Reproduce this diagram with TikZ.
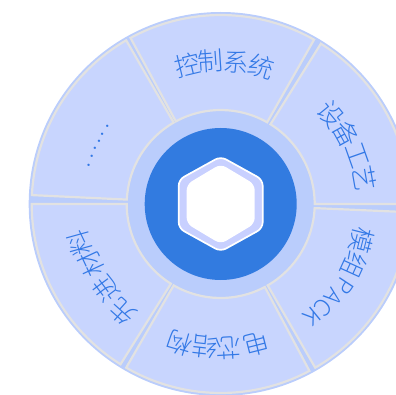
\documentclass[tikz,border=0pt]{standalone}
\usetikzlibrary{calc}
\usepackage{fontspec}
\newfontfamily\cjk[UprightFont=* Light]{Noto Sans CJK SC}
\newfontfamily\cjkreg{Noto Sans CJK SC}
\definecolor{ringbg}{HTML}{BACDFC}
\definecolor{sector}{HTML}{C8D5FE}
\definecolor{edgegray}{HTML}{E2E2E2}
\definecolor{hubblue}{HTML}{327BE0}
\definecolor{txtblue}{HTML}{3278E6}
\definecolor{hexfill}{HTML}{C8D0FF}
\tikzset{
  sectorshape/.style={fill=sector,draw=edgegray,line width=2.2pt,line join=miter},
  glyph/.style={inner sep=0pt,text=txtblue,font=\cjk\fontsize{25.5}{26}\selectfont},
  latinglyph/.style={inner sep=0pt,text=txtblue,font=\cjk\fontsize{23}{24}\selectfont},
  dotglyph/.style={inner sep=0pt,text=txtblue,font=\cjkreg\bfseries\fontsize{11}{11}\selectfont}
}
\begin{document}
\begin{tikzpicture}[x=1pt,y=1pt]
\useasboundingbox (0,0) rectangle (396,394);
\clip (0,0) rectangle (396,394);
\coordinate (c) at (220.7,190);
\fill[ringbg] (c) circle[radius=192];
\foreach \a/\b in {118.5/60.4, 58/0, -2.5/-60, -62/-120, -122/-180, 177.3/120}{
  \path[sectorshape] ($(c)+(\a:189)$) arc[start angle=\a,end angle=\b,radius=189]
    -- ($(c)+(\b:94)$) arc[start angle=\b,end angle=\a,radius=94] -- cycle;
}
\fill[hubblue] (c) circle[radius=76];
% hexagon
\path[fill=hexfill,draw=white,line width=1.7pt,line join=round,rounded corners=6pt]
  ($(c)+(90:47.5)$) -- ($(c)+(30:48.5)$) -- ($(c)+(-30:48.5)$) -- ($(c)+(-90:47.5)$) -- ($(c)+(-150:48.5)$) -- ($(c)+(150:48.5)$) -- cycle;
\path[fill=white,rounded corners=6pt]
  ($(c)+(90:40)$) -- ($(c)+(30:39.3)$) -- ($(c)+(-30:39.3)$) -- ($(c)+(-90:40)$) -- ($(c)+(-150:39.3)$) -- ($(c)+(150:39.3)$) -- cycle;
% labels
\foreach \t/\ang/\r in {控/103.5/143,制/94/143,系/83.7/143,统/73.5/143,
  设/39.2/142,备/29/144,工/19.5/145,艺/10/146,
  模/-14.2/146,组/-24.5/147,
  电/-75.7/145,芯/-86.8/144,结/-96.4/144,构/-106.4/145,
  先/-132/146,进/-143.4/143,材/-155/143,料/-164.5/146}{
  \pgfmathsetmacro{\rot}{\ang-90}
  \node[glyph,rotate=\rot] at ($(c)+(\ang:\r)$) {\t};
}
\foreach \t/\ang/\r in {P/-33.5/148,A/-39.5/147,C/-45.3/146,K/-50.6/145}{
  \pgfmathsetmacro{\rot}{\ang-90}
  \node[latinglyph,rotate=\rot] at ($(c)+(\ang:\r)$) {\t};
}
\foreach \ang in {145.7,149.2,152.7,156.2,159.7,163.4}{
  \pgfmathsetmacro{\rot}{\ang-90}
  \node[dotglyph,rotate=\rot] at ($(c)+(\ang:137)$) {.};
}
\end{tikzpicture}
\end{document}
